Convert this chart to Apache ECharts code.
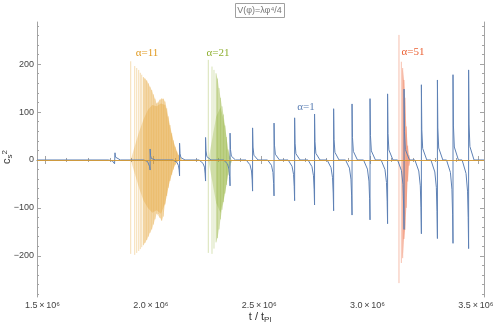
<!DOCTYPE html>
<html>
<head>
<meta charset="utf-8">
<script src="https://cdn.jsdelivr.net/npm/echarts@6/dist/echarts.min.js"></script>
<style>
html, body { margin: 0; padding: 0; background: #fff; }
#chart { width: 498px; height: 324px; }
</style>
</head>
<body>
<div id="chart"></div>
<script>
// time axis in units of 10^6 t_Pl
var xMajor = [1.5, 2.0, 2.5, 3.0, 3.5];
var xMinor = [1.6, 1.7, 1.8, 1.9, 2.1, 2.2, 2.3, 2.4, 2.6, 2.7, 2.8, 2.9, 3.1, 3.2, 3.3, 3.4];
var yMajor = [-200, -100, 0, 100, 200];
var yMinor = [-280, -260, -240, -220, -180, -160, -140, -120, -80, -60, -40, -20,
              20, 40, 60, 80, 120, 140, 160, 180, 220, 240, 260, 280];

// alpha = 1 : one row per spike (slow dip, jump, fast decay)
var alpha1 = [
  [1.463, 0],
  [1.793, 0], [1.811, -2], [1.818, -4], [1.821, -8], [1.823, -12], [1.823, 15], [1.825, 6], [1.829, 2], [1.848, 0],
  [1.955, 0], [1.973, -3], [1.980, -7], [1.983, -14], [1.985, -21], [1.985, 23], [1.987, 9], [1.991, 3], [2.010, 0],
  [2.091, 0], [2.109, -5], [2.116, -12], [2.119, -21], [2.121, -33], [2.121, 35], [2.123, 14], [2.127, 5], [2.146, 0],
  [2.211, 0], [2.229, -7], [2.236, -15], [2.239, -29], [2.241, -44], [2.241, 47], [2.243, 19], [2.247, 7], [2.266, 0],
  [2.324, 0], [2.342, -8], [2.349, -19], [2.352, -35], [2.354, -54], [2.354, 56], [2.356, 22], [2.360, 8], [2.379, 0],
  [2.428, 0], [2.446, -10], [2.453, -23], [2.456, -42], [2.458, -65], [2.458, 67], [2.460, 27], [2.464, 10], [2.483, 0],
  [2.527, 0], [2.545, -11], [2.552, -26], [2.555, -49], [2.557, -75], [2.557, 77], [2.559, 31], [2.563, 12], [2.582, 0],
  [2.622, 0], [2.640, -13], [2.647, -30], [2.650, -55], [2.652, -85], [2.652, 88], [2.654, 35], [2.658, 13], [2.677, 0],
  [2.714, 0], [2.732, -14], [2.739, -33], [2.742, -61], [2.744, -94], [2.744, 96], [2.746, 38], [2.750, 14], [2.769, 0],
  [2.802, 0], [2.820, -16], [2.827, -37], [2.830, -69], [2.832, -106], [2.832, 107], [2.834, 43], [2.838, 16], [2.857, 0],
  [2.887, 0], [2.905, -17], [2.912, -40], [2.915, -75], [2.917, -115], [2.917, 117], [2.919, 47], [2.923, 18], [2.942, 0],
  [2.970, 0], [2.988, -19], [2.995, -44], [2.998, -81], [3.000, -125], [3.000, 128], [3.002, 51], [3.006, 19], [3.025, 0],
  [3.051, 0], [3.069, -20], [3.076, -47], [3.079, -86], [3.081, -133], [3.081, 138], [3.083, 55], [3.087, 21], [3.106, 0],
  [3.127, 0], [3.145, -22], [3.152, -51], [3.155, -94], [3.157, -145], [3.157, 148], [3.159, 59], [3.163, 22], [3.182, 0],
  [3.207, 0], [3.225, -23], [3.232, -54], [3.235, -100], [3.237, -154], [3.237, 157], [3.239, 63], [3.243, 24], [3.262, 0],
  [3.281, 0], [3.299, -25], [3.306, -57], [3.309, -107], [3.311, -164], [3.311, 167], [3.313, 67], [3.317, 25], [3.336, 0],
  [3.353, 0], [3.371, -26], [3.378, -61], [3.381, -113], [3.383, -174], [3.383, 178], [3.385, 71], [3.389, 27], [3.408, 0],
  [3.425, 0], [3.443, -28], [3.450, -65], [3.453, -120], [3.455, -185], [3.455, 188], [3.457, 75], [3.461, 28], [3.480, 0],
  [3.526, 0]
];

// alpha = 11 : isolated first spikes, the dense band (outer envelope) and its denser core
var a11SpikeT  = [1.8955, 1.9140, 1.9232, 1.9324, 1.9398, 1.9463];
var a11SpikeHi = [206, 196, 192, 188, 182, 178];
var a11SpikeLo = [-196, -198, -194, -190, -186, -182];
var a11BandT  = [1.9537, 1.9615, 1.9693, 1.9767, 1.9845, 1.9924, 1.9998, 2.0075, 2.0155, 2.0229, 2.0307,
                 2.0385, 2.0459, 2.0537, 2.0616, 2.0690, 2.0768, 2.0846, 2.0920, 2.0999, 2.1077, 2.1151, 2.1230, 2.1322];
var a11BandHi = [173, 170, 166, 160, 153, 146, 137, 128, 118, 120, 126,
                 129, 128, 122, 108, 91, 73, 56, 41, 28, 18, 11, 6, 2];
var a11BandLo = [-178, -173, -167, -160, -152, -145, -135, -124, -112, -113, -121,
                 -127, -118, -93, -75, -58, -44, -31, -20, -10, -5, -1, 0, 0];
var a11CoreT  = [1.8955, 1.915, 1.935, 1.955, 1.975, 1.995, 2.015, 2.035, 2.055, 2.075, 2.095, 2.115, 2.132];
var a11CoreHi = [0, 30, 60, 85, 105, 115, 112, 118, 115, 72, 35, 11, 2];
var a11CoreLo = [0, -30, -60, -85, -100, -110, -105, -112, -90, -44, -15, -1, 0];

// alpha = 21
var a21SpikeT  = [2.2536, 2.2706, 2.2798];
var a21SpikeHi = [209, 195, 188];
var a21SpikeLo = [-194, -196, -185];
var a21BandT  = [2.2891, 2.2960, 2.3030, 2.3099, 2.3168, 2.3237, 2.3306, 2.3376, 2.3445, 2.3514, 2.3583, 2.3653];
var a21BandHi = [181, 170, 150, 130, 112, 95, 72, 48, 22, 8, 2, 0];
var a21BandLo = [-172, -163, -145, -124, -104, -88, -70, -52, -32, -17, -6, 0];
var a21CoreT  = [2.2536, 2.27, 2.29, 2.31, 2.33, 2.345, 2.3583];
var a21CoreHi = [0, 40, 90, 110, 72, 22, 2];
var a21CoreLo = [0, -40, -90, -110, -70, -32, -6];

// alpha = 51
var a51SpikeT  = [3.1336, 3.1445];
var a51SpikeHi = [261, 205];
var a51SpikeLo = [-257, -215];
var a51BandT  = [3.1507, 3.1568, 3.1614, 3.1675, 3.1738, 3.1800, 3.1860];
var a51BandHi = [192, 167, 130, 70, 30, 10, 0];
var a51BandLo = [-205, -165, -146, -100, -45, -12, 0];

var X_MIN = 1.463, X_MAX = 3.526;
var Y_MIN = -286, Y_MAX = 288;

var cBlue = '#5E81B5', cOrange = '#E19C24', cGreen = '#8FB032', cRed = '#EB6235';
var frameColor = '#a3a3a3';
var tickFont = 'Liberation Sans';

function zip2(t, v) {
  return t.map(function (x, i) { return [x, v[i]]; });
}
function zip3(t, hi, lo) {
  return t.map(function (x, i) { return [x, hi[i], lo[i]]; });
}

function spikeSeries(data, color, alpha) {
  return {
    type: 'custom',
    data: data,
    clip: true,
    silent: true,
    encode: { x: 0, y: [1, 2] },
    renderItem: function (params, api) {
      var p1 = api.coord([api.value(0), api.value(1)]);
      var p2 = api.coord([api.value(0), api.value(2)]);
      return {
        type: 'line',
        shape: { x1: p1[0], y1: p1[1], x2: p2[0], y2: p2[1] },
        style: { stroke: color, lineWidth: 1, opacity: alpha }
      };
    }
  };
}

function bandSeries(t, v, color, alpha) {
  return {
    type: 'line',
    data: zip2(t, v),
    symbol: 'none',
    silent: true,
    lineStyle: { width: 0 },
    areaStyle: { color: color, opacity: alpha, origin: 'auto' }
  };
}

function axisFrame(dim, pos, ticks, len, showLine, showLabel) {
  var ax = {
    type: 'value',
    position: pos,
    min: dim === 'x' ? X_MIN : Y_MIN,
    max: dim === 'x' ? X_MAX : Y_MAX,
    splitLine: { show: false },
    axisLine: { show: showLine, lineStyle: { color: frameColor, width: 1 } },
    axisTick: { show: true, inside: true, length: len, customValues: ticks,
                lineStyle: { color: frameColor, width: 1 } },
    axisLabel: { show: showLabel, customValues: ticks, fontFamily: tickFont, fontSize: 9, color: '#444' }
  };
  return ax;
}

var xBottom = axisFrame('x', 'bottom', xMajor, 4, true, true);
xBottom.axisLabel.margin = 4;
xBottom.axisLabel.padding = [0, 5, 0, 0];
xBottom.axisLabel.formatter = function (v) { return v.toFixed(1) + '\u2009\u00d7\u200910\u2076'; };

var yLeft = axisFrame('y', 'left', yMajor, 4, true, true);
yLeft.axisLabel.margin = 3;
yLeft.axisLabel.formatter = function (v) { return v < 0 ? '\u2212' + (-v) : String(v); };

var subStyle = { fontFamily: tickFont, fontSize: 8, fill: '#333', padding: [5, 0, 0, 0] };
var supStyle = { fontFamily: tickFont, fontSize: 8, fill: '#333', padding: [0, 0, 5, 0] };

var option = {
  animation: false,
  grid: { left: 37, right: 14, top: 22, bottom: 27, containLabel: false, outerBoundsMode: 'none' },
  xAxis: [
    xBottom,
    axisFrame('x', 'top', xMajor, 4, true, false),
    axisFrame('x', 'bottom', xMinor, 2, false, false),
    axisFrame('x', 'top', xMinor, 2, false, false)
  ],
  yAxis: [
    yLeft,
    axisFrame('y', 'right', yMajor, 4, true, false),
    axisFrame('y', 'left', yMinor, 2, false, false),
    axisFrame('y', 'right', yMinor, 2, false, false)
  ],
  series: [
    {
      type: 'line',
      data: alpha1,
      symbol: 'none',
      silent: true,
      lineStyle: { color: cBlue, width: 1 }
    },
    bandSeries(a11BandT, a11BandHi, cOrange, 0.3),
    bandSeries(a11BandT, a11BandLo, cOrange, 0.3),
    bandSeries(a11CoreT, a11CoreHi, cOrange, 0.3),
    bandSeries(a11CoreT, a11CoreLo, cOrange, 0.3),
    spikeSeries(zip3(a11SpikeT.concat(a11BandT), a11SpikeHi.concat(a11BandHi), a11SpikeLo.concat(a11BandLo)), cOrange, 0.35),
    bandSeries(a21BandT, a21BandHi, cGreen, 0.3),
    bandSeries(a21BandT, a21BandLo, cGreen, 0.3),
    bandSeries(a21CoreT, a21CoreHi, cGreen, 0.3),
    bandSeries(a21CoreT, a21CoreLo, cGreen, 0.3),
    spikeSeries(zip3(a21SpikeT.concat(a21BandT), a21SpikeHi.concat(a21BandHi), a21SpikeLo.concat(a21BandLo)), cGreen, 0.35),
    bandSeries(a51BandT, a51BandHi, cRed, 0.4),
    bandSeries(a51BandT, a51BandLo, cRed, 0.4),
    spikeSeries(zip3(a51SpikeT.concat(a51BandT), a51SpikeHi.concat(a51BandHi), a51SpikeLo.concat(a51BandLo)), cRed, 0.4),
    {
      type: 'line',
      data: [],
      silent: true,
      markLine: {
        silent: true,
        symbol: 'none',
        label: { show: false },
        lineStyle: { color: cOrange, width: 1, type: 'solid', opacity: 0.8 },
        data: [{ yAxis: 0 }]
      }
    }
  ],
  graphic: [
    {
      type: 'rect', left: 235, top: 3,
      shape: { width: 49, height: 14 },
      style: { fill: '#fff', stroke: '#a0a0a0', lineWidth: 1 }
    },
    {
      type: 'text', x: 259.5, y: 10.5,
      style: { text: 'V(\u03c6)=\u03bb\u03c6\u2074/4', fontFamily: tickFont, fontSize: 9,
               fill: '#777', align: 'center', verticalAlign: 'middle' }
    },
    {
      type: 'text', x: 260, y: 317,
      style: { text: 't / t{s|Pl}', fontFamily: tickFont, fontSize: 11, fill: '#333',
               align: 'center', verticalAlign: 'middle', rich: { s: subStyle } }
    },
    {
      type: 'text', x: 7, y: 157, rotation: Math.PI / 2,
      style: { text: 'c{s|s}{p|2}', fontFamily: tickFont, fontSize: 11, fill: '#333',
               align: 'center', verticalAlign: 'middle', rich: { s: subStyle, p: supStyle } }
    },
    {
      type: 'text', x: 147, y: 53,
      style: { text: '\u03b1=11', fontFamily: 'Liberation Serif', fontSize: 11, fill: cOrange,
               align: 'center', verticalAlign: 'middle' }
    },
    {
      type: 'text', x: 218, y: 53,
      style: { text: '\u03b1=21', fontFamily: 'Liberation Serif', fontSize: 11, fill: cGreen,
               align: 'center', verticalAlign: 'middle' }
    },
    {
      type: 'text', x: 306, y: 107.5,
      style: { text: '\u03b1=1', fontFamily: 'Liberation Serif', fontSize: 11, fill: cBlue,
               align: 'center', verticalAlign: 'middle' }
    },
    {
      type: 'text', x: 413, y: 52.5,
      style: { text: '\u03b1=51', fontFamily: 'Liberation Serif', fontSize: 11, fill: cRed,
               align: 'center', verticalAlign: 'middle' }
    }
  ]
};

var chart = echarts.init(document.getElementById('chart'));
chart.setOption(option);
</script>
</body>
</html>
